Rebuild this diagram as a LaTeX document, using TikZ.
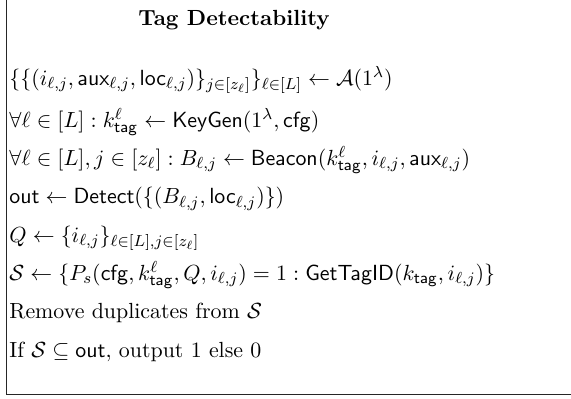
\documentclass[tikz,border=0pt,11pt]{standalone}
\usepackage{amsmath,amssymb}
\begin{document}
\begin{tikzpicture}[x=0.5pt,y=-0.5pt]
\tikzset{row/.style={anchor=base west, inner sep=0pt},
  frame/.style={line width=0.8pt, black!85}}
\useasboundingbox (0,0) rectangle (571,398);
\draw[frame] (6.5,0) -- (6.5,394.5) -- (571,394.5);
\node[anchor=base, inner sep=0pt] (title) at (234,25) {\textbf{Tag Detectability}};
\node[row] (l1) at (9,85) {$\{\{(i_{\ell,j},\mathsf{aux}_{\ell,j},\mathsf{loc}_{\ell,j})\}_{j\in[z_\ell]}\}_{\ell\in[L]}\leftarrow\mathcal{A}(1^\lambda)$};
\node[row] (l2) at (9,127) {$\forall\ell\in[L]:k^{\ell}_{\mathsf{tag}}\leftarrow\mathsf{KeyGen}(1^\lambda,\mathsf{cfg})$};
\node[row] (l3) at (9,165.3) {$\forall\ell\in[L],j\in[z_\ell]:B_{\ell,j}\leftarrow\mathsf{Beacon}(k^{\ell}_{\mathsf{tag}},i_{\ell,j},\mathsf{aux}_{\ell,j})$};
\node[row] (l4) at (9,203.6) {$\mathsf{out}\leftarrow\mathsf{Detect}(\{(B_{\ell,j},\mathsf{loc}_{\ell,j})\})$};
\node[row] (l5) at (9,242) {$Q\leftarrow\{i_{\ell,j}\}_{\ell\in[L],j\in[z_\ell]}$};
\node[row] (l6) at (9,280.3) {$\mathcal{S}\leftarrow\{P_s(\mathsf{cfg},k^{\ell}_{\mathsf{tag}},Q,i_{\ell,j})=1:\mathsf{GetTagID}(k_{\mathsf{tag}},i_{\ell,j})\}$};
\node[row] (l7) at (9,318.6) {Remove duplicates from $\mathcal{S}$};
\node[row] (l8) at (9,357) {If $\mathcal{S}\subseteq\mathsf{out},$ output 1 else 0};
\end{tikzpicture}
\end{document}
